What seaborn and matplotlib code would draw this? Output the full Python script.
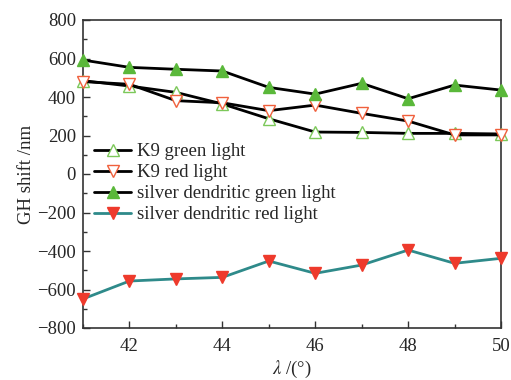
import matplotlib
matplotlib.use("Agg")
import matplotlib.pyplot as plt
import seaborn as sns
import pandas as pd
from matplotlib.ticker import MultipleLocator

angles = [41, 42, 43, 44, 45, 46, 47, 48, 49, 50]
k9_green = [485, 457, 424, 364, 287, 218, 216, 211, 211, 208]
k9_red = [480, 466, 381, 370, 329, 358, 315, 275, 203, 203]
silver_green = [592, 554, 544, 535, 450, 415, 471, 391, 462, 436]
silver_red = [-649, -556, -545, -537, -452, -516, -473, -395, -464, -438]

labels = ["K9 green light", "K9 red light", "silver dendritic green light", "silver dendritic red light"]

sns.set_style("ticks")
plt.rcParams['font.family'] = ['Liberation Serif', 'DejaVu Serif']
plt.rcParams['mathtext.fontset'] = 'stix'

fig = plt.figure(figsize=(5.11, 3.80), dpi=100)
ax = fig.add_axes([83/511, 1-328/380, (501-83)/511, (328-20)/380])

green = "#5ab83a"
red = "#ee3a2c"
teal = "#2e8a8a"

styles = [
    (k9_green, dict(color="black", marker="^", mfc="white", mec="#7cc85a")),
    (k9_red, dict(color="black", marker="v", mfc="white", mec="#f0603c")),
    (silver_green, dict(color="black", marker="^", mfc=green, mec=green)),
    (silver_red, dict(color=teal, marker="v", mfc=red, mec=red)),
]
for (vals, st), lab in zip(styles, labels):
    df = pd.DataFrame({"x": angles, "y": vals})
    sns.lineplot(data=df, x="x", y="y", ax=ax, label=lab, linewidth=2.0,
                 color=st["color"], marker=st["marker"], markersize=9,
                 markerfacecolor=st["mfc"], markeredgecolor=st["mec"],
                 markeredgewidth=1.0, clip_on=False, zorder=3)

fs = 13.5
ax.set_xlim(41, 50)
ax.set_ylim(-800, 800)
ax.xaxis.set_major_locator(MultipleLocator(2))
ax.xaxis.set_minor_locator(MultipleLocator(1))
ax.yaxis.set_major_locator(MultipleLocator(200))
ax.yaxis.set_minor_locator(MultipleLocator(100))
ax.tick_params(which="both", direction="in", labelsize=fs, color="#333333")
ax.tick_params(which="major", length=5, width=1)
ax.tick_params(which="minor", length=3, width=1)
ax.tick_params(axis="x", pad=7)
ax.tick_params(axis="y", right=False, pad=5)
for s in ax.spines.values():
    s.set_linewidth(1.2)
    s.set_color("#333333")
ax.set_xlabel(r"$\lambda$ /(°)", fontsize=fs, labelpad=3)
ax.set_ylabel("GH shift /nm", fontsize=fs, labelpad=2)

leg = ax.legend(loc="upper left", bbox_to_anchor=(0.005, 0.63), frameon=False,
                fontsize=fs, handlelength=1.95, handletextpad=0.3,
                labelspacing=0.2, borderaxespad=0.3, borderpad=0.2)

fig.savefig("out.png", dpi=100)
